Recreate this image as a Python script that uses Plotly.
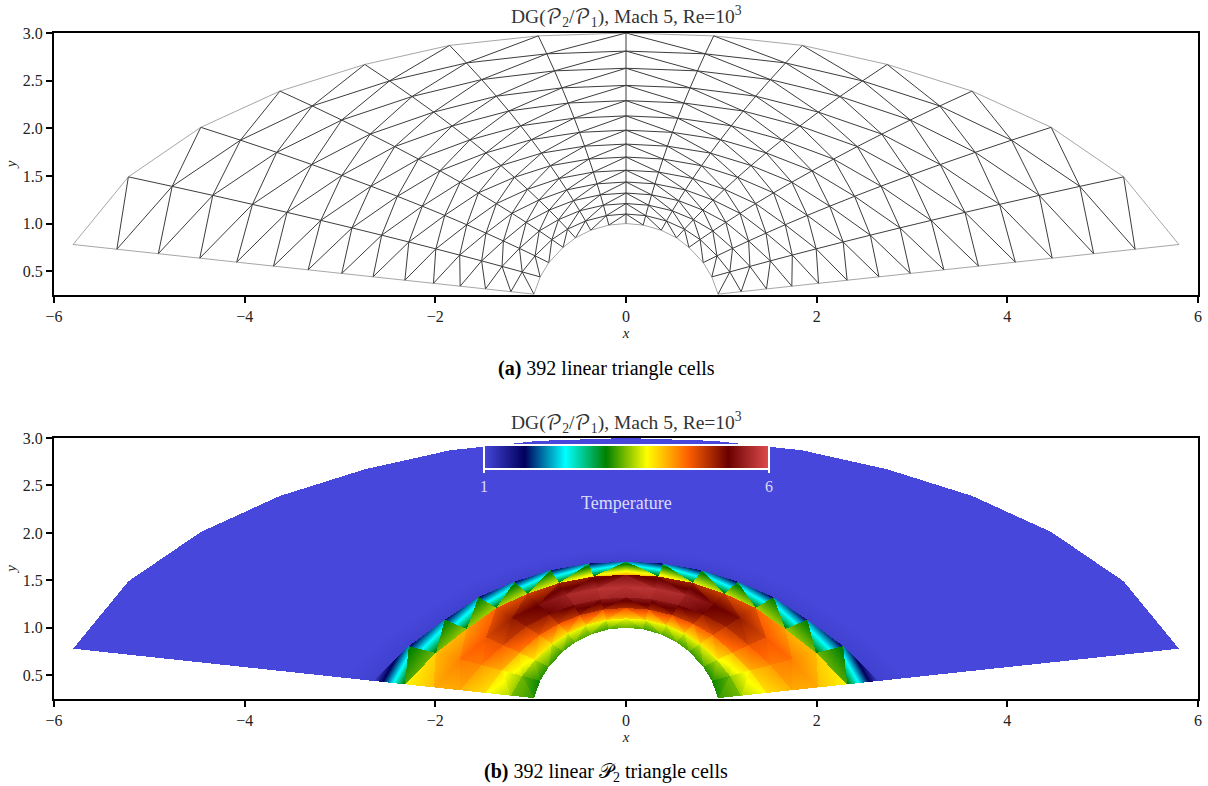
import numpy as np
import plotly.graph_objects as go

# ---- mesh data (left half, mirrored in code) ----
outer_x = [-5.80, -5.22, -4.46, -3.63, -2.74, -1.85, -0.92, 0.0]
outer_y = [0.78, 1.49, 2.01, 2.39, 2.67, 2.87, 2.97, 3.0]
inner_x = [-0.966, -0.90, -0.81, -0.66, -0.53, -0.37, -0.18, 0.0]
inner_y = [0.259, 0.44, 0.59, 0.75, 0.85, 0.93, 0.984, 1.0]
ring_frac = [0, 0.05, 0.105, 0.16, 0.218, 0.28, 0.349, 0.417, 0.49, 0.565, 0.645, 0.725, 0.815, 0.905, 1]
ray_bow = [0, 0.033, 0.055, 0.055, 0.065, 0.07, 0.075, 0]

# ---- temperature: per ray, rings 0..5 behind the shock ----
temp_ray0 = [3.2, 3.5, 3.9, 4.2, 4.2, 3.8]
temp_ray1 = [3.1, 3.5, 4.1, 4.4, 4.5, 4.1]
temp_ray2 = [3.2, 3.8, 4.3, 4.7, 4.7, 4.2]
temp_ray3 = [3.2, 3.9, 4.6, 5.0, 5.2, 4.6]
temp_ray4 = [3.3, 3.9, 4.7, 5.2, 5.4, 4.7]
temp_ray5 = [3.3, 3.9, 4.9, 5.5, 5.7, 4.9]
temp_ray6 = [3.2, 3.9, 4.9, 5.6, 5.8, 5.0]
temp_ray7 = [3.4, 4.0, 4.9, 5.6, 5.8, 5.3]
shock_front = [3.35, 3.45, 3.55, 3.6, 3.7, 3.8, 4.0, 4.2]
shock_apex = [3.1, 3.1, 3.1, 3.1, 3.0, 3.0, 2.9, 2.9]
shock_foot = [3.2, 3.2, 3.2, 3.2, 3.2, 3.2, 3.2]
shock_top_left = [1.05, 1.7, 1.7, 1.7, 1.7, 1.7, 1.7]
shock_top_right = [2.1, 2.1, 2.1, 2.1, 2.1, 2.1, 2.1]
wake_temp = 1.06
free_temp = 1.0
facet_contrast = 0.6

x_ticks = [-6, -4, -2, 0, 2, 4, 6]
y_ticks = [0.5, 1.0, 1.5, 2.0, 2.5, 3.0]
title_text = "DG(𝒫<sub>2</sub>/𝒫<sub>1</sub>), Mach 5, Re=10<sup>3</sup>"
caption_a = "<b>(a)</b> 392 linear triangle cells"
caption_b = "<b>(b)</b> 392 linear 𝒫<sub>2</sub> triangle cells"

# Colour map: ParaView "Rainbow Desaturated"
cmap_pos = [0, 1/7, 2/7, 3/7, 4/7, 5/7, 6/7, 1]
cmap_col = ["rgb(71,71,219)", "rgb(0,0,92)", "rgb(0,255,255)", "rgb(0,128,0)",
            "rgb(255,255,0)", "rgb(255,97,0)", "rgb(107,0,0)", "rgb(224,77,77)"]

FONT = "Liberation Serif, DejaVu Serif, serif"
W, H = 1208, 786
L, R = 54, 1198
T1, B1 = 33, 295
T2, B2 = 438, 699

# ---- build nodes ----
temp_rays = [temp_ray0, temp_ray1, temp_ray2, temp_ray3, temp_ray4, temp_ray5, temp_ray6, temp_ray7]
ox = np.array(outer_x); oy = np.array(outer_y); ix = np.array(inner_x); iy = np.array(inner_y)
t = np.array(ring_frac, dtype=float)
bow = np.array(ray_bow)
N = len(t)
nx = np.zeros((15, N)); ny = np.zeros((15, N))
for i in range(8):
    tx = t - bow[i] * 4 * t * (1 - t)
    nx[i] = ix[i] + tx * (ox[i] - ix[i])
    ny[i] = iy[i] + t * (oy[i] - iy[i])
    nx[14 - i] = -nx[i]
    ny[14 - i] = ny[i]

def facet(vals):
    m = sum(vals) / 3
    return [m + facet_contrast * (v - m) for v in vals]

# ---- triangles of the left half with per-vertex (discontinuous) temperature ----
tris = []
for i in range(7):
    for j in range(14):
        A = [(i, j), (i + 1, j), (i + 1, j + 1)]
        B = [(i, j), (i + 1, j + 1), (i, j + 1)]
        if j <= 4:
            a = facet([temp_rays[i][j], temp_rays[i + 1][j], temp_rays[i + 1][j + 1]])
            b = facet([temp_rays[i][j], temp_rays[i + 1][j + 1], temp_rays[i][j + 1]])
        elif j == 5:
            a = [shock_front[i], shock_front[i + 1], shock_apex[i + 1]]
            b = [shock_foot[i], shock_top_right[i], shock_top_left[i]]
        elif j == 6:
            a = [wake_temp, wake_temp, free_temp]
            b = [wake_temp, free_temp, free_temp]
        else:
            a = [free_temp] * 3
            b = [free_temp] * 3
        tris.append((A, a))
        tris.append((B, b))
all_tris = list(tris) + [([(14 - p, q) for p, q in v], val) for v, val in tris]

# ---- edges: interior ones belong to two triangles ----
edges = {}
for v, _ in all_tris:
    for k in range(3):
        e = tuple(sorted((v[k], v[(k + 1) % 3])))
        edges[e] = edges.get(e, 0) + 1

def edge_xy(count):
    xs, ys = [], []
    for (p, q), c in edges.items():
        if c == count:
            xs += [nx[p], nx[q], None]
            ys += [ny[p], ny[q], None]
    return xs, ys

xi, yi = edge_xy(2)
xb, yb = edge_xy(1)

# ---- sample the field on the plot's pixel grid ----
nxp, nyp = R - L, B2 - T2
gx = -6 + (np.arange(nxp) + 0.5) * 12 / nxp
gy = 0.25 + (np.arange(nyp) + 0.5) * 2.75 / nyp
Z = np.full((nyp, nxp), np.nan, dtype=np.float32)
for v, val in all_tris:
    px = np.array([nx[a] for a in v]); py = np.array([ny[a] for a in v]); pv = np.array(val)
    k0, k1 = np.searchsorted(gx, px.min()), np.searchsorted(gx, px.max())
    l0, l1 = np.searchsorted(gy, py.min()), np.searchsorted(gy, py.max())
    if k1 <= k0 or l1 <= l0:
        continue
    X, Y = np.meshgrid(gx[k0:k1], gy[l0:l1])
    d = (py[1] - py[2]) * (px[0] - px[2]) + (px[2] - px[1]) * (py[0] - py[2])
    w0 = ((py[1] - py[2]) * (X - px[2]) + (px[2] - px[1]) * (Y - py[2])) / d
    w1 = ((py[2] - py[0]) * (X - px[2]) + (px[0] - px[2]) * (Y - py[2])) / d
    w2 = 1 - w0 - w1
    m = (w0 >= -1e-9) & (w1 >= -1e-9) & (w2 >= -1e-9)
    sub = Z[l0:l1, k0:k1]
    sub[m] = (w0 * pv[0] + w1 * pv[1] + w2 * pv[2])[m]

# ---- figure ----
fig = go.Figure()
fig.add_trace(go.Scatter(x=xi, y=yi, mode="lines", line=dict(color="#3d3d3d", width=1),
                         hoverinfo="skip", showlegend=False, xaxis="x", yaxis="y"))
fig.add_trace(go.Scatter(x=xb, y=yb, mode="lines", line=dict(color="#6a6a6a", width=0.6),
                         hoverinfo="skip", showlegend=False, xaxis="x", yaxis="y"))
fig.add_trace(go.Heatmap(
    x=gx, y=gy, z=Z, zmin=1, zmax=6, xaxis="x2", yaxis="y2", hoverinfo="skip",
    colorscale=[[p, c] for p, c in zip(cmap_pos, cmap_col)],
    colorbar=dict(
        orientation="h", xref="paper", yref="paper",
        x=484 / W, xanchor="left", y=1 - 445 / H, yanchor="top",
        lenmode="pixels", len=285, thicknessmode="pixels", thickness=24,
        xpad=0, ypad=0, outlinecolor="white", outlinewidth=2,
        tickmode="array", tickvals=[1, 6], ticktext=["1", "6"],
        ticks="outside", ticklen=3, tickwidth=1.5, tickcolor="white",
        tickfont=dict(family=FONT, size=16, color="#dcdcf6"),
        bgcolor="rgba(0,0,0,0)", borderwidth=0,
    ),
))

axis_common = dict(showline=True, mirror=True, linecolor="black", linewidth=2,
                   ticks="outside", ticklen=6, tickwidth=2, tickcolor="black",
                   showgrid=False, zeroline=False, automargin=False,
                   tickfont=dict(family=FONT, size=16, color="#222222"))
xc = dict(axis_common, range=[-6, 6], tickvals=x_ticks,
          domain=[L / W, R / W],
          title=dict(text="<i>x</i>", font=dict(family=FONT, size=15, color="#222222"), standoff=0))
yc = dict(axis_common, range=[0.25, 3], tickvals=y_ticks, tickformat=".1f",
          title=dict(text="<i>y</i>", font=dict(family=FONT, size=15, color="#222222"), standoff=3))

notes = []
for cap, ypx in ((caption_a, 368), (caption_b, 772)):
    notes.append(dict(text=cap, x=606 / W, y=1 - ypx / H, xref="paper", yref="paper",
                      xanchor="center", yanchor="middle", showarrow=False,
                      font=dict(family=FONT, size=20, color="black")))
for ypx in (17, 423):
    notes.append(dict(text=title_text, x=626 / W, y=1 - ypx / H, xref="paper", yref="paper",
                      xanchor="center", yanchor="middle", showarrow=False,
                      font=dict(family=FONT + ", DejaVu Math TeX Gyre", size=19.5, color="#333333")))
notes.append(dict(text="Temperature", x=626.5 / W, y=1 - 503 / H, xref="paper", yref="paper",
                  xanchor="center", yanchor="middle", showarrow=False,
                  font=dict(family=FONT, size=18, color="#dcdcf6")))

fig.update_layout(
    width=W, height=H, autosize=False,
    paper_bgcolor="white", plot_bgcolor="white",
    margin=dict(l=0, r=0, t=0, b=0, autoexpand=False),
    showlegend=False,
    xaxis=dict(xc, anchor="y"),
    yaxis=dict(yc, domain=[1 - B1 / H, 1 - T1 / H], anchor="x"),
    xaxis2=dict(xc, anchor="y2"),
    yaxis2=dict(yc, domain=[1 - B2 / H, 1 - T2 / H], anchor="x2"),
    annotations=notes,
)
fig.write_html("out.html", config=dict(displayModeBar=False),
               post_script="document.body.style.margin='0';document.body.style.overflow='hidden';")
